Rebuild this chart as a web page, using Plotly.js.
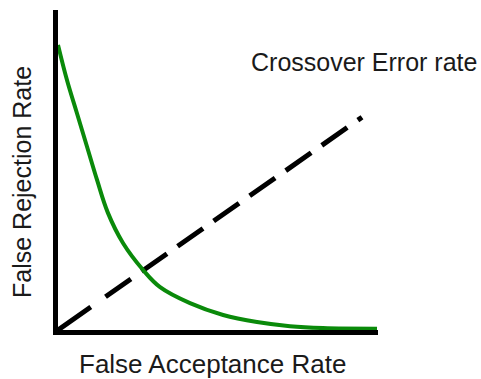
<!DOCTYPE html>
<html>
<head>
<meta charset="utf-8">
<script src="https://cdn.plot.ly/plotly-3.0.1.min.js"></script>
<style>html,body{margin:0;padding:0;background:#fff;}#chart{width:481px;height:379px;}</style>
</head>
<body>
<div id="chart"></div>
<script>
// False Rejection Rate curve (green)
const farValues = [0.0, 0.028, 0.059, 0.091, 0.122, 0.156, 0.203, 0.266, 0.319, 0.4125, 0.516, 0.622, 0.725, 0.828, 0.997];
const frrValues = [0.891, 0.781, 0.678, 0.572, 0.469, 0.366, 0.272, 0.1875, 0.134, 0.084, 0.047, 0.025, 0.012, 0.006, 0.004];
// Dashed diagonal (equal error reference line)
const diagonalX = [0.0, 0.95];
const diagonalY = [0.0, 0.665];
// Texts
const xTitle = "False Acceptance Rate";
const yTitle = "False Rejection Rate";
const noteText = "Crossover Error rate";

const fontFamily = "Liberation Sans, Arial, sans-serif";
const textColor = "#1a1a1a";

const traces = [
  {
    x: diagonalX, y: diagonalY, type: "scatter", mode: "lines",
    line: {color: "#000000", width: 5,
      dash: "40px,18px,31px,13px,31px,13px,31px,13px,31px,13px,31px,13px,31px,13px,31px,13px,31px,13px"},
    hoverinfo: "skip", showlegend: false
  },
  {
    x: farValues, y: frrValues, type: "scatter", mode: "lines",
    line: {color: "#0a8a0a", width: 4, shape: "spline", smoothing: 1.1},
    hoverinfo: "skip", showlegend: false
  }
];

const axisCommon = {
  range: [0, 1], showgrid: false, zeroline: false, showticklabels: false,
  ticks: "", showline: true, linecolor: "#000000", linewidth: 5, fixedrange: true
};

const layout = {
  width: 481, height: 379,
  margin: {l: 58, r: 103, t: 10, b: 49, pad: 0},
  paper_bgcolor: "#ffffff", plot_bgcolor: "#ffffff",
  showlegend: false,
  xaxis: Object.assign({}, axisCommon),
  yaxis: Object.assign({}, axisCommon),
  font: {family: fontFamily, color: textColor},
  annotations: [
    {text: noteText, xref: "paper", yref: "paper", x: 0.956, y: 0.838,
     xanchor: "center", yanchor: "middle", showarrow: false,
     font: {family: fontFamily, size: 25, color: textColor}},
    {text: xTitle, xref: "paper", yref: "paper", x: 0.48125, y: -0.105,
     xanchor: "center", yanchor: "middle", showarrow: false,
     font: {family: fontFamily, size: 26, color: textColor}},
    {text: yTitle, xref: "paper", yref: "paper", x: -0.1125, y: 0.4625,
     xanchor: "center", yanchor: "middle", showarrow: false, textangle: -90,
     font: {family: fontFamily, size: 25, color: textColor}}
  ]
};

Plotly.newPlot("chart", traces, layout, {staticPlot: true, displayModeBar: false});
</script>
</body>
</html>
